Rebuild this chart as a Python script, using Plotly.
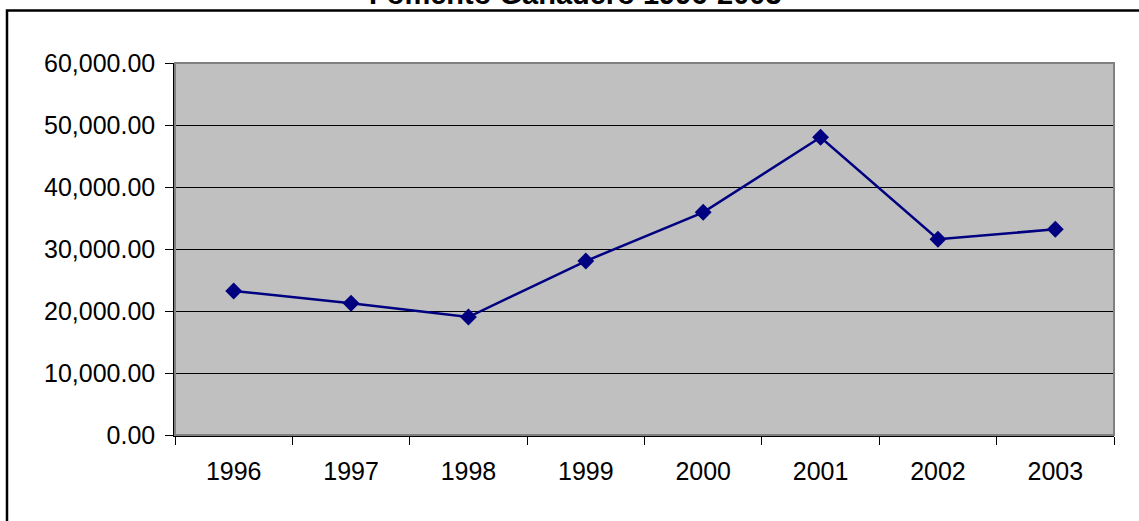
import plotly.graph_objects as go

years = ["1996", "1997", "1998", "1999", "2000", "2001", "2002", "2003"]
values = [23230, 21240, 19030, 28060, 35920, 48020, 31570, 33180]
title_text = "Fomento Ganadero 1996-2003"

W, H = 1139, 521
L, R, T, B = 175, 25, 63, 86
pw, ph = W - L - R, H - T - B

fig = go.Figure()
fig.add_trace(go.Scatter(
    x=years, y=values, mode="lines+markers",
    line=dict(color="#000080", width=2.5),
    marker=dict(symbol="diamond", size=13, color="#000080"),
    showlegend=False, cliponaxis=False,
))

font = dict(family="Liberation Sans, Arial, sans-serif", size=25, color="black")

fig.update_layout(
    width=W, height=H,
    margin=dict(l=L, r=R, t=T, b=B, pad=0),
    paper_bgcolor="white", plot_bgcolor="#C0C0C0",
    font=font,
    xaxis=dict(
        type="category", range=[-0.5, 7.5], tickson="boundaries",
        ticks="outside", ticklen=8, tickcolor="black", tickwidth=1,
        showline=True, linecolor="black", linewidth=1.5,
        showgrid=False, zeroline=False, ticklabelstandoff=13,
        tickfont=font,
    ),
    yaxis=dict(
        range=[0, 60000], dtick=10000, tickformat=",.2f",
        ticks="outside", ticklen=8, tickcolor="black", tickwidth=1,
        showline=True, linecolor="black", linewidth=1.5,
        showgrid=True, gridcolor="black", gridwidth=1,
        zeroline=False, ticklabelstandoff=5,
        tickfont=font,
    ),
    shapes=[
        dict(type="rect", xref="paper", yref="paper", x0=0, x1=1, y0=0, y1=1,
             line=dict(color="#808080", width=2), layer="above"),
        dict(type="rect", xref="paper", yref="paper",
             x0=(7 - L) / pw, x1=(W + 20 - L) / pw,
             y0=1 + (T - (H + 20)) / ph, y1=1 + (T - 10.5) / ph,
             line=dict(color="black", width=2.5), layer="above"),
    ],
    annotations=[
        dict(text="<b>" + title_text + "</b>", xref="paper", yref="paper",
             x=(575.5 - L) / pw, y=1 + (T - 12) / ph, xanchor="center", yanchor="bottom",
             showarrow=False, font=dict(family="Liberation Sans, Arial, sans-serif", size=29, color="black")),
    ],
)

fig.write_html("out.html")
